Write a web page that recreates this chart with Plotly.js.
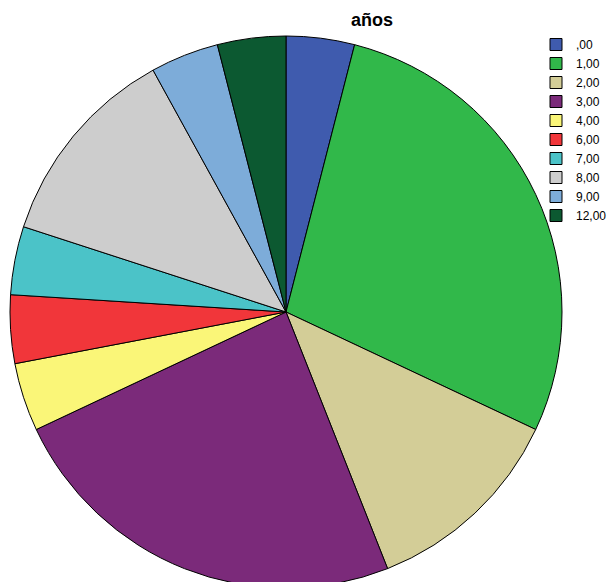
<!DOCTYPE html>
<html>
<head>
<meta charset="utf-8">
<script src="https://cdn.plot.ly/plotly-3.0.1.min.js"></script>
<style>html,body{margin:0;padding:0;overflow:hidden;background:#fff;}</style>
</head>
<body>
<div id="chart" style="width:611px;height:620px;"></div>
<script>
const categories = [",00", "1,00", "2,00", "3,00", "4,00", "6,00", "7,00", "8,00", "9,00", "12,00"];
const counts = [1, 7, 3, 6, 1, 1, 1, 3, 1, 1];
const colors = ["#3F5BAE", "#31B84A", "#D3CD97", "#7B2A7A", "#FAF678", "#F1363A", "#4BC3C8", "#CDCDCD", "#7DACD9", "#0C5931"];

const W = 611, H = 620;
const cx = 286, cy = 312, r = 276;

Plotly.newPlot('chart', [{
  type: 'pie',
  labels: categories,
  values: counts,
  sort: false,
  direction: 'clockwise',
  rotation: 0,
  textinfo: 'none',
  hoverinfo: 'label+value',
  marker: {colors: colors, line: {color: '#000000', width: 1}},
  domain: {x: [(cx - r) / W, (cx + r) / W], y: [(H - cy - r) / H, (H - cy + r) / H]}
}], {
  width: W, height: H,
  margin: {l: 0, r: 0, t: 0, b: 0, autoexpand: false},
  paper_bgcolor: '#ffffff',
  font: {family: 'Liberation Sans, Arial, sans-serif', color: '#000'},
  title: {text: '<b>años</b>', x: 372 / W, xanchor: 'center', y: 1 - 20 / H, yanchor: 'middle', font: {size: 18, color: '#000', family: 'Liberation Sans, Arial, sans-serif'}},
  showlegend: true,
  legend: {x: 536 / W, xanchor: 'left', y: 1 - 30 / H, yanchor: 'top', font: {size: 12, color: '#000'}, bgcolor: 'rgba(0,0,0,0)', itemwidth: 30, tracegroupgap: 0}
}, {displayModeBar: false, staticPlot: true});
</script>
</body>
</html>
